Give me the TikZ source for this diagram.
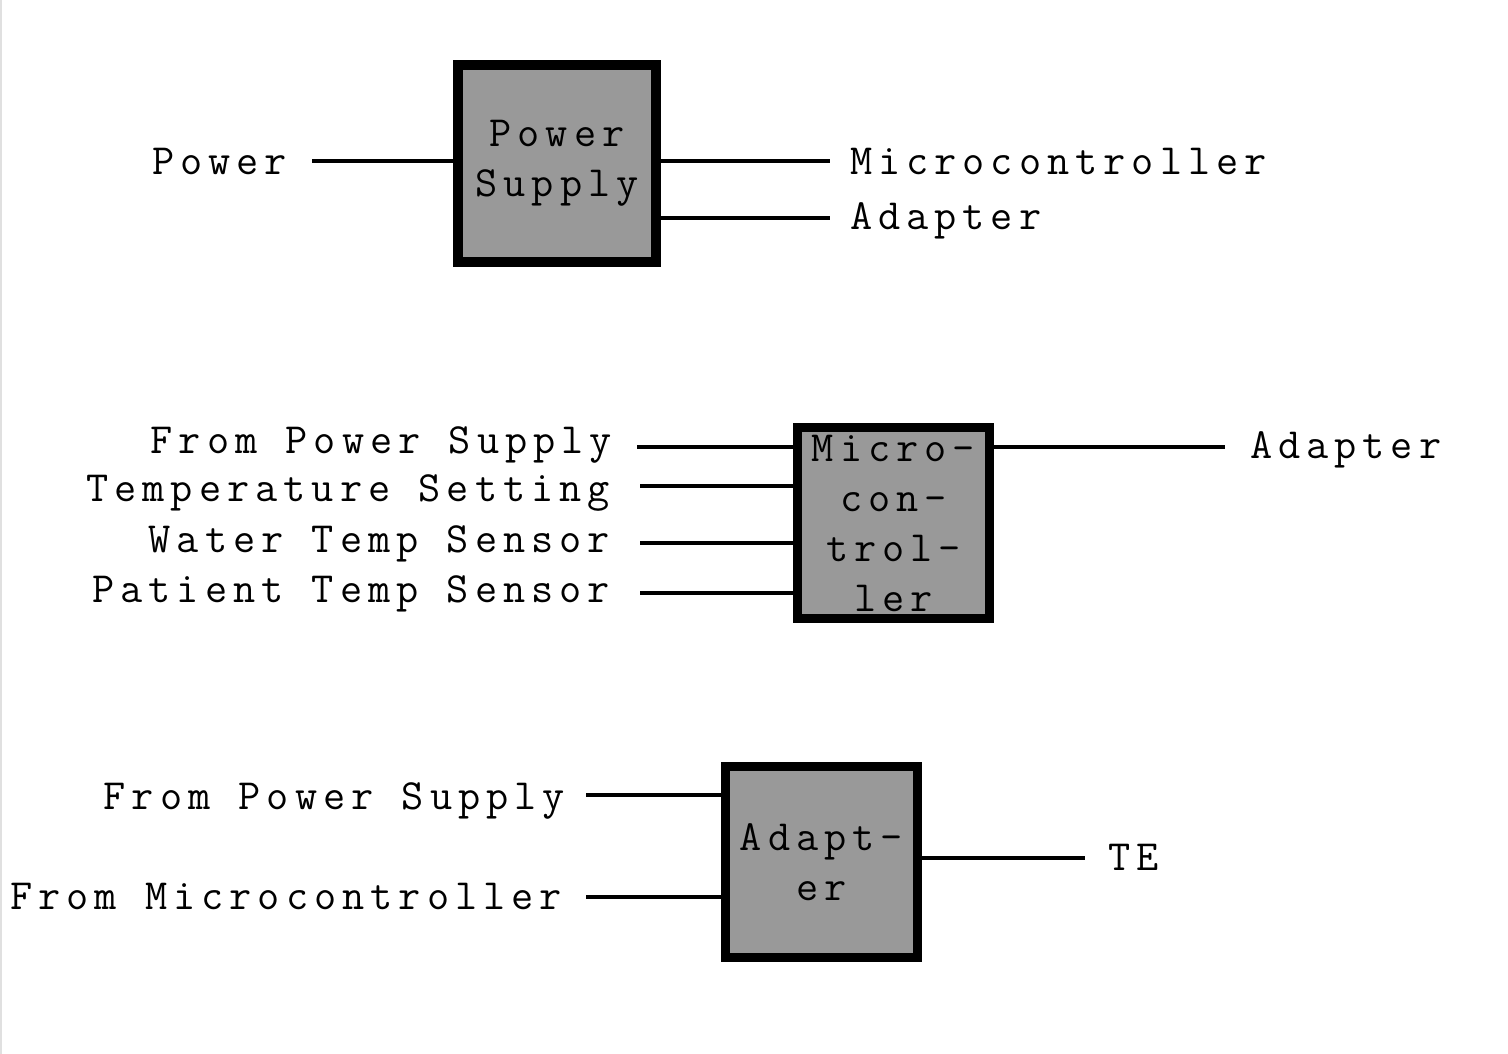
\documentclass[tikz,border=0pt]{standalone}
\usepackage{fontspec}
\setmonofont{Latin Modern Mono}[LetterSpace=14]
\newcommand\diafont{\ttfamily\fontsize{24.5pt}{1cm}\selectfont}
\definecolor{boxgray}{HTML}{999999}
\begin{document}
\begin{tikzpicture}[x=0.02cm, y=-0.02cm,
    blk/.style={draw, fill=boxgray, line width=0.19cm, inner sep=0pt, align=center, font=\diafont},
    lbl/.style={inner sep=0pt, outer sep=0pt, text height=15pt, text depth=0pt, font=\diafont},
    wire/.style={line width=0.09cm}]
        \useasboundingbox (0,0) rectangle (1508,1054);
        \draw[black!12, line width=0.04cm] (1,0) -- (1,1054);

        \node[blk, minimum width=3.96cm, minimum height=3.94cm] (psu) at (557,163.5) {Power\\Supply};
        \node[lbl, anchor=east] (pw) at (287,161) {Power};
        \node[lbl, anchor=west] (psmc) at (850,161) {Microcontroller};
        \node[lbl, anchor=west] (psad) at (850,216) {Adapter};

        \coordinate (pw') at (312,161);
        \coordinate (psmc') at (830,161);
        \coordinate (psad') at (830,218);

        \draw[wire] (pw') -- (psu.west |- pw');
        \draw[wire] (psu.east |- psmc') -- (psmc');
        \draw[wire] (psu.east |- psad') -- (psad');

        \node[blk, minimum width=3.84cm, minimum height=3.82cm] (mc) at (893.5,523) {Micro-\\con-\\trol-\\ler};
        \node[lbl, anchor=east] (mcps) at (612,440) {From Power Supply};
        \node[lbl, anchor=east] (mcts) at (610,488) {Temperature Setting};
        \node[lbl, anchor=east] (mcws) at (610,539) {Water Temp Sensor};
        \node[lbl, anchor=east] (mcpt) at (610,589) {Patient Temp Sensor};
        \node[lbl, anchor=west] (mcad) at (1250,445) {Adapter};

        \coordinate (mcps') at (637,447);
        \coordinate (mcts') at (640,486);
        \coordinate (mcws') at (640,543);
        \coordinate (mcpt') at (640,593);
        \coordinate (mcad') at (1225,447);

        \draw[wire] (mcps') -- (mc.west |- mcps');
        \draw[wire] (mcts') -- (mc.west |- mcts');
        \draw[wire] (mcws') -- (mc.west |- mcws');
        \draw[wire] (mcpt') -- (mc.west |- mcpt');
        \draw[wire] (mc.east |- mcad') -- (mcad');

        \node[blk, minimum width=3.84cm, minimum height=3.82cm] (ad) at (821.5,862) {Adapt-\\er};
        \node[lbl, anchor=east] (adps) at (565,796) {From Power Supply};
        \node[lbl, anchor=east] (admc) at (562,896) {From Microcontroller};
        \node[lbl, anchor=west] (adte) at (1108,857) {TE};

        \coordinate (adps') at (586,795);
        \coordinate (admc') at (586,897);
        \coordinate (adte') at (1085,858);

        \draw[wire] (adps') -- (ad.west |- adps');
        \draw[wire] (admc') -- (ad.west |- admc');
        \draw[wire] (ad.east |- adte') -- (adte');
    \end{tikzpicture}
\end{document}
